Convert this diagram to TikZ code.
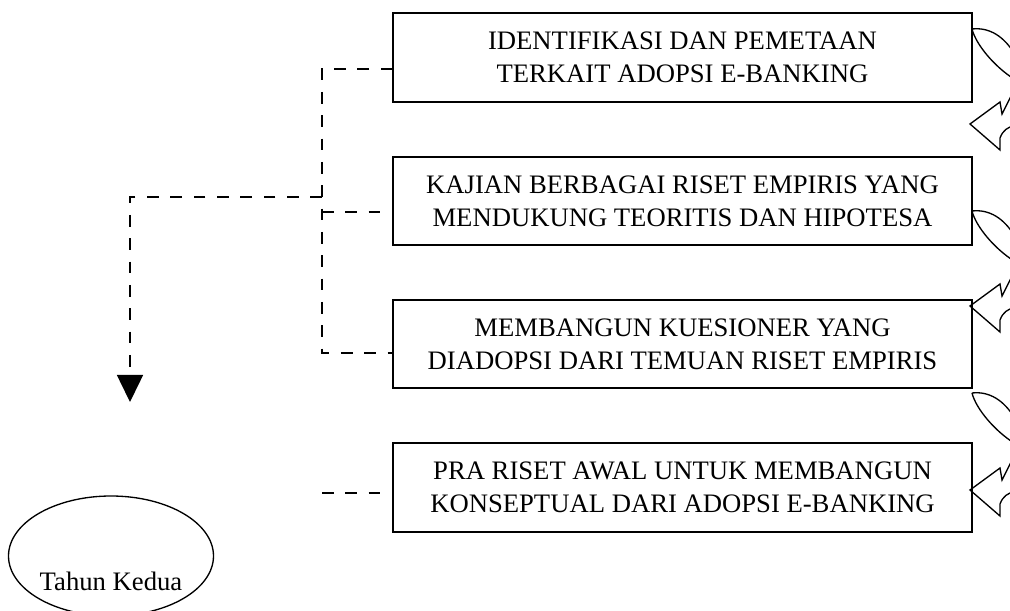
\documentclass[tikz,border=0pt]{standalone}
\usepackage{fontspec}
\setmainfont{Liberation Serif}
\usetikzlibrary{shapes.geometric, arrows.meta}
\tikzstyle{box} = [draw, line width=1.2pt, align=center, minimum width=347pt, minimum height=53pt, font=\fontsize{16}{19.8}\selectfont]
\tikzstyle{dashline} = [line width=0.9pt, dash pattern=on 7pt off 7pt]
\tikzstyle{curve} = [line width=0.8pt, line join=miter]

\begin{document}
\begin{tikzpicture}[x=0.6pt, y=-0.6pt, node distance=86pt]
\useasboundingbox (0,0) rectangle (1010,611);
\clip (0,0) rectangle (1010,611);

%nodes
\node (1) [box] at (682.5,57.5) {IDENTIFIKASI DAN PEMETAAN\\TERKAIT ADOPSI E-BANKING};
\node (2) [box, below of=1] {KAJIAN BERBAGAI RISET EMPIRIS YANG\\MENDUKUNG TEORITIS DAN HIPOTESA};
\node (3) [box, below of=2] {MEMBANGUN KUESIONER YANG\\DIADOPSI DARI TEMUAN RISET EMPIRIS};
\node (4) [box, below of=3] {PRA RISET AWAL UNTUK MEMBANGUN\\KONSEPTUAL DARI ADOPSI E-BANKING};
\node (5) [ellipse, draw, line width=0.8pt, minimum width=123pt, minimum height=72pt] at (111,556) {};
\node (6) [font=\fontsize{16}{19.8}\selectfont] at (111,581) {Tahun Kedua};

\coordinate (j0) at (322,197);
\coordinate (j1) at (322,69);
\coordinate (j2) at (322,212);
\coordinate (j3) at (322,353);
\coordinate (j4) at (322,493);
\coordinate (tip) at (130,402);

%arrows
\draw [dashline] (j1 -| 1.west) -- (j1) -- (j3) -- (j3 -| 3.west);
\draw [dashline] (j2) -- (j2 -| 2.west);
\draw [dashline] (j4) -- (j4 -| 4.west);
\draw [dashline, -{Triangle[width=15.6pt, length=16.2pt]}] (j0) -- (j0 -| tip) -- (tip);

%curved arrows at the right
\foreach \c/\t in {29/124, 211/306, 393/490} {
  \draw [curve] (972,\c) .. controls (990,\c-2) and (1004,\c+8) .. (1014,\c+24);
  \draw [curve] (972,\c) .. controls (976,\c+16) and (995,\c+38) .. (1014,\c+50);
  \draw [curve] (1014,\t-34) -- (1002,\t-10) -- (1000,\t-22) -- (970,\t) -- (1000,\t+26) -- (1000,\t+14) .. controls (1003,\t+6) and (1008,\t+3) .. (1014,\t+2);
}

\end{tikzpicture}
\end{document}
